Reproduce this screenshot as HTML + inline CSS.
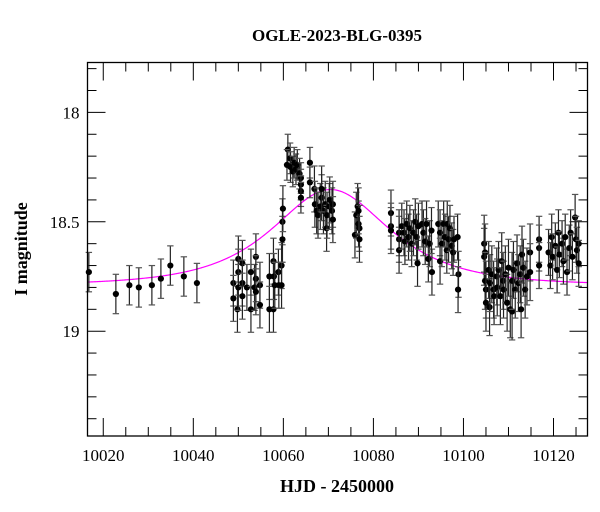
<!DOCTYPE html>
<html><head><meta charset="utf-8">
<style>
html,body{margin:0;padding:0;background:#fff;}
svg{display:block;font-family:"Liberation Serif","DejaVu Serif",serif;}
</style></head>
<body>
<svg id="chart" width="600" height="512" viewBox="0 0 600 512" xmlns="http://www.w3.org/2000/svg">
<rect x="0" y="0" width="600" height="512" fill="#fff"/>
<text x="337" y="41" text-anchor="middle" font-size="17" font-weight="bold">OGLE-2023-BLG-0395</text>
<text x="337" y="492" text-anchor="middle" font-size="18" font-weight="bold">HJD - 2450000</text>
<text x="0" y="0" transform="translate(27,249) rotate(-90)" text-anchor="middle" font-size="18" font-weight="bold">I magnitude</text>
<g id="axes"></g>
<g id="model"></g>
<g id="points"></g>
<rect x="87.5" y="62.5" width="500" height="373.5" fill="none" stroke="#000" stroke-width="1.3"/>
</svg>
<script>
const xTicksMajor = [10020, 10040, 10060, 10080, 10100, 10120];
const yTicksMajor = [18, 18.5, 19];
const yTickLabels = ["18", "18.5", "19"];
const modelParams = [10070.5, 0.83, 17.4, 18.79]; // t0, u0, tE, baseline
const days = [10016.8,10022.8,10025.8,10027.9,10030.8,10032.8,10034.9,10037.9,10040.8,
10048.9,10048.9,10049.8,10050,10050,10050,10050.9,10050.9,10050.9,10051.9,10052.8,10052.8,10053.6,10053.9,10053.9,10053.9,10054.8,10054.8,
10056.9,10056.9,10057.8,10057.8,10057.9,10058.1,10058.9,10059.0,10059.6,10059.6,10059.8,10059.8,10059.9,
10061.0,10060.8,10061.5,10061.6,10062.1,10062.4,10062.8,10063.1,10063.6,10063.9,10063.9,10063.9,10063.9,10065.9,10065.9,
10066.9,10067.0,10067.4,10067.7,10068.2,10068.5,10068.9,10069.3,10069.6,10069.7,10070.2,10070.3,10070.8,10071.0,10071.0,10068.5,
10075.9,10076.2,10076.5,10076.7,10076.9,10076.9,10076.7,
10083.9,10083.9,10083.9,
10085.7,10085.7,10085.7,10086.3,10086.8,10087.0,10087.4,10087.8,10088.1,10088.5,10088.9,10089.3,10089.6,10089.8,10090.0,10090.8,10091.1,10091.5,10091.8,10092.2,10092.5,10093.0,10092.9,
10094.4,10094.8,10094.8,10095.2,10095.6,10095.9,10096.3,10096.4,10096.7,10097.0,10097.4,10097.7,10097.9,10098.7,10098.9,10098.8,
10104.6,10104.6,10104.8,10104.8,10105.0,10105.0,10105.6,10105.8,10105.9,10106.3,10106.7,10106.8,10107.4,10107.5,10107.8,10108.2,10108.5,10108.8,10108.9,10109.3,10109.7,10110.0,10110.4,10110.8,10110.8,10111.1,10111.5,10111.9,10112.2,10112.6,10112.8,10113.0,10113.3,10113.7,10114.1,10114.8,10114.8,
10116.8,10116.8,10116.8,
10118.9,10119.3,10119.6,10119.8,10120.4,10120.8,10121.1,10121.3,10121.9,10122.2,10122.6,10123.0,10123.5,10123.8,10124.2,10124.8,10125.0,10125.2,10125.6,10125.6];
const mags = [18.73,18.83,18.79,18.80,18.79,18.76,18.70,18.75,18.78,
18.78,18.85,18.90,18.67,18.73,18.80,18.69,18.78,18.84,18.80,18.73,18.90,18.80,18.66,18.76,18.82,18.79,18.88,
18.75,18.90,18.68,18.90,18.75,18.79,18.73,18.79,18.70,18.79,18.50,18.58,18.44,
18.17,18.24,18.21,18.25,18.27,18.23,18.26,18.24,18.28,18.30,18.33,18.36,18.39,18.23,18.32,
18.35,18.42,18.45,18.47,18.43,18.39,18.45,18.42,18.53,18.47,18.43,18.40,18.45,18.42,18.49,18.35,
18.56,18.47,18.43,18.51,18.53,18.58,18.45,
18.46,18.52,18.54,
18.55,18.58,18.63,18.52,18.55,18.59,18.51,18.57,18.53,18.60,18.55,18.50,18.57,18.69,18.52,18.51,18.55,18.59,18.51,18.67,18.60,18.73,18.54,
18.51,18.55,18.68,18.60,18.51,18.57,18.63,18.51,18.58,18.53,18.61,18.64,18.58,18.57,18.74,18.81,
18.60,18.66,18.64,18.77,18.81,18.87,18.72,18.89,18.78,18.74,18.81,18.84,18.75,18.80,18.72,18.84,18.68,18.77,18.81,18.74,18.87,18.71,18.90,18.91,18.77,18.72,18.81,18.69,18.78,18.74,18.90,18.65,18.71,18.81,18.75,18.64,18.73,
18.58,18.62,18.70,
18.64,18.70,18.57,18.66,18.61,18.72,18.55,18.65,18.60,18.68,18.57,18.73,18.62,18.55,18.66,18.48,18.58,18.63,18.60,18.69];
const errs = days.map((d, i) => d < 10045 ? 0.09 : (d < 10066 && mags[i] < 18.4 ? 0.07 : (d > 10100 && d < 10116 ? 0.13 : 0.105)));

const X0 = 10016.5, X1 = 10127.55, PX0 = 87.5, PX1 = 587.5;
const Y0 = 17.772, Y1 = 19.479, PY0 = 62.5, PY1 = 436;
function xs(t){ return PX0 + (t - X0) / (X1 - X0) * (PX1 - PX0); }
function ys(m){ return PY0 + (m - Y0) / (Y1 - Y0) * (PY1 - PY0); }
const NS = "http://www.w3.org/2000/svg";
function mk(tag, attrs, parent){ const e = document.createElementNS(NS, tag); for (const k in attrs) e.setAttribute(k, attrs[k]); parent.appendChild(e); return e; }

const axes = document.getElementById('axes');
for (let t = 10020; t <= 10125; t += 5) {
  const major = xTicksMajor.includes(t);
  const len = major ? 18 : 9;
  const x = xs(t);
  const b = mk('line', {x1:x, y1:PY1, x2:x, y2:PY1-len, stroke:'#000', 'stroke-width':1}, axes);
  
  
  const tp = mk('line', {x1:x, y1:PY0, x2:x, y2:PY0+len, stroke:'#000', 'stroke-width':1}, axes);
  
  
}
xTicksMajor.forEach(t => {
  const lbl = mk('text', {x:xs(t), y:PY1+25, 'text-anchor':'middle', 'font-size':17}, axes);
  
  
  lbl.textContent = String(t);
});
for (let k = 18; k <= 194; k++) {
  const m = k / 10;
  if (m < Y0 || m > Y1) continue;
  const major = Math.abs(m * 2 - Math.round(m * 2)) < 1e-6;
  const len = major ? 18 : 9;
  const y = ys(m);
  const l = mk('line', {x1:PX0, y1:y, x2:PX0+len, y2:y, stroke:'#000', 'stroke-width':1}, axes);
  
  
  const r = mk('line', {x1:PX1, y1:y, x2:PX1-len, y2:y, stroke:'#000', 'stroke-width':1}, axes);
  
  
}
yTicksMajor.forEach((m, i) => {
  const lbl = mk('text', {x:PX0-8, y:ys(m)+6, 'text-anchor':'end', 'font-size':17}, axes);
  
  
  lbl.textContent = yTickLabels[i];
});

const pts = document.getElementById('points');
days.forEach((t, i) => {
  const x = xs(t), y = ys(mags[i]), e = errs[i];
  const ya = ys(mags[i] - e), yb = ys(mags[i] + e);
  const g = mk('g', {}, pts);
  
  
  mk('line', {x1:x, y1:ya, x2:x, y2:yb, stroke:'#222', 'stroke-width':1.2}, g);
  mk('line', {x1:x-3.2, y1:ya, x2:x+3.2, y2:ya, stroke:'#555', 'stroke-width':1.2}, g);
  mk('line', {x1:x-3.2, y1:yb, x2:x+3.2, y2:yb, stroke:'#555', 'stroke-width':1.2}, g);
  mk('circle', {cx:x, cy:y, r:3.1, fill:'#000'}, g);
});

const [t0, u0, tE, base] = modelParams;
let d = '';
for (let px = PX0; px <= PX1; px += 1) {
  const t = X0 + (px - PX0) / (PX1 - PX0) * (X1 - X0);
  const tau = (t - t0) / tE;
  const u = Math.sqrt(u0 * u0 + tau * tau);
  const A = (u * u + 2) / (u * Math.sqrt(u * u + 4));
  const m = base - 2.5 * Math.log10(A);
  d += (d ? 'L' : 'M') + px.toFixed(1) + ',' + ys(m).toFixed(2);
}
const path = mk('path', {d:d, fill:'none', stroke:'#ff00ff', 'stroke-width':1.2}, document.getElementById('model'));


</script>
</body></html>
